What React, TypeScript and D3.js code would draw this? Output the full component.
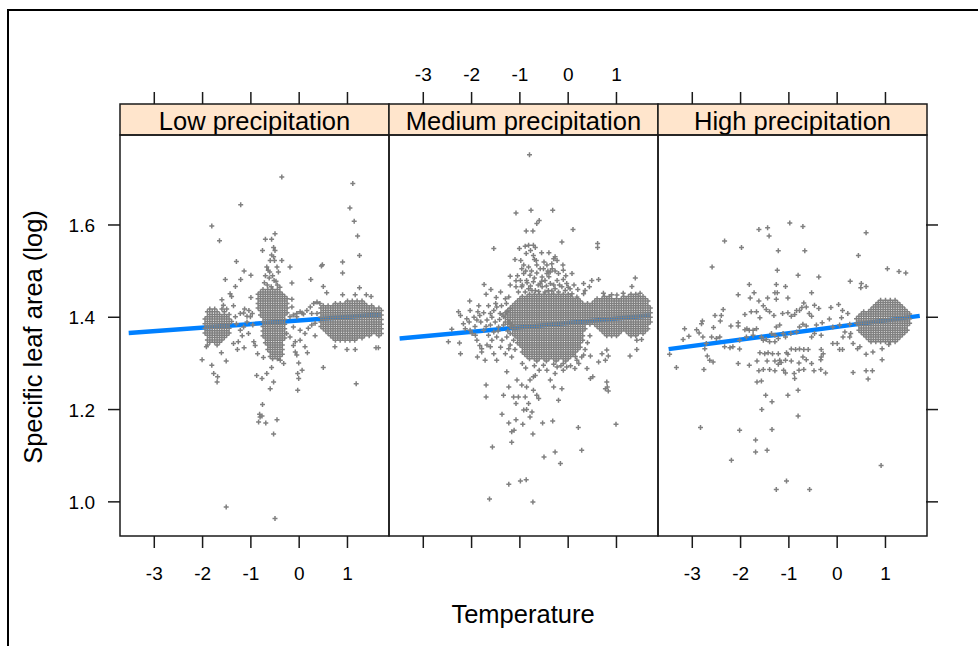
import React from "react";
import * as d3 from "d3";

const panelNames = ["Low precipitation", "Medium precipitation", "High precipitation"];
const xTicks = [-3, -2, -1, 0, 1];
const yTicks = [1.0, 1.2, 1.4, 1.6];
const yTickLabels = ["1.0", "1.2", "1.4", "1.6"];
const xDomain = [-3.71, 1.86];
const yDomain = [0.926, 1.795];

// fitted lines [x, y] start and end
const lowFit: [number, number][] = [[-3.53, 1.366], [1.69, 1.406]];
const medFit: [number, number][] = [[-3.49, 1.354], [1.69, 1.404]];
const highFit: [number, number][] = [[-3.49, 1.331], [1.71, 1.403]];

// ---------- Low precipitation ----------
const lowPoints: [number, number][] = [
  [-0.36,1.704],[1.11,1.690],[-1.21,1.644],[1.05,1.637],[1.14,1.608],[-1.81,1.598],[1.21,1.576],[-1.65,1.566],[1.25,1.534],[-0.50,1.581],
  [-0.70,1.569],[-0.57,1.569],[-0.53,1.551],[-0.50,1.545],[-0.76,1.545],[-0.57,1.535],[-0.53,1.531],[-0.60,1.523],[-0.51,1.523],[-0.36,1.523],
  [-1.30,1.521],[-0.67,1.509],[-0.46,1.509],[-0.64,1.502],[-0.43,1.498],[-0.19,1.509],[0.46,1.511],[0.48,1.514],[0.90,1.520],[0.90,1.496],
  [-1.14,1.500],[-1.00,1.491],[-1.53,1.482],[-1.21,1.482],[-1.32,1.467],[-1.43,1.451],[-1.40,1.445],[0.24,1.482],[-0.15,1.474],[0.50,1.467],
  [0.57,1.453],[1.25,1.464],[1.39,1.449],[1.49,1.445],[0.90,1.449],[1.16,1.449],[-1.60,1.438],[-1.57,1.426],[-1.36,1.425],[-1.00,1.443],
  [-1.15,1.409],[-1.08,1.402],[-0.15,1.439],[-0.15,1.422],[0.06,1.409],[-0.05,1.401],
  [-0.70,1.490],[-0.62,1.485],[-0.55,1.490],[-0.48,1.478],[-0.66,1.470],[-0.58,1.466],[-0.45,1.470],[-0.72,1.475],[-0.40,1.465],[-0.52,1.480],[-0.61,1.498],
  [-2.01,1.308],[-1.92,1.336],[-1.81,1.296],[-1.77,1.278],[-1.69,1.271],[-1.70,1.260],[-1.61,1.323],[-1.51,1.305],[-1.28,1.330],[-1.14,1.334],
  [-0.94,1.347],[-0.91,1.339],[-0.86,1.321],[-0.74,1.313],[-0.88,1.274],[-0.77,1.267],[-0.67,1.278],[-0.57,1.291],[-0.53,1.260],[-0.60,1.245],
  [-0.32,1.300],[-0.39,1.307],[-0.12,1.339],[-0.05,1.318],[-0.08,1.325],[-0.01,1.301],[0.06,1.285],[-0.03,1.278],[-0.01,1.267],[-0.03,1.242],
  [0.17,1.323],[0.12,1.336],[0.50,1.291],[1.18,1.256],[0.74,1.336],[0.99,1.330],[1.16,1.330],[1.59,1.334],[1.64,1.334],
  [-0.76,1.211],[-0.82,1.190],[-0.81,1.184],[-0.77,1.186],[-0.84,1.173],[-0.69,1.171],[-0.46,1.178],[-0.53,1.147],[-1.51,0.989],[-0.50,0.964],
  [-1.30,1.386],[-1.22,1.372],[-1.15,1.379],[-1.08,1.390],[-1.01,1.401],[-0.97,1.408],[-1.04,1.415],[-1.13,1.418],[-1.22,1.408],[-1.32,1.401],
  [-1.26,1.347],[-1.36,1.343],[-1.18,1.360],[-1.05,1.365],[-0.96,1.383],
  [-0.19,1.401],[-0.12,1.405],[-0.05,1.408],[0.02,1.412],[0.09,1.407],[0.16,1.415],[0.23,1.422],[0.30,1.430],[0.37,1.433],[0.43,1.430],
  [-0.12,1.379],[0.02,1.372],[0.12,1.365],[0.19,1.376],[0.26,1.383],[0.33,1.387],[-0.26,1.365],[-0.19,1.357],[0.02,1.350],[-0.08,1.347],
  [0.37,1.408],[0.26,1.408],[0.33,1.360],
];
const lowRows: [number, number[]][] = [
  // left cluster
  [1.418, [-1.85,-1.75,-1.6,-1.5]],
  [1.412, [-1.9,-1.8,-1.7,-1.55]],
  [1.406, [-1.85,-1.75,-1.65,-1.55,-1.45]],
  [1.401, [-1.9,-1.8,-1.7,-1.6,-1.5]],
  [1.396, [-1.95,-1.85,-1.75,-1.65,-1.55,-1.45]],
  [1.391, [-1.9,-1.8,-1.7,-1.6,-1.5,-1.4]],
  [1.386, [-1.95,-1.85,-1.75,-1.65,-1.55,-1.45]],
  [1.381, [-1.9,-1.8,-1.7,-1.6,-1.5]],
  [1.376, [-1.95,-1.85,-1.75,-1.65,-1.55,-1.45]],
  [1.371, [-1.9,-1.8,-1.7,-1.6,-1.5]],
  [1.366, [-1.95,-1.85,-1.75,-1.65,-1.55,-1.45]],
  [1.361, [-1.9,-1.8,-1.7,-1.6,-1.5]],
  [1.356, [-1.85,-1.75,-1.65,-1.55]],
  [1.351, [-1.9,-1.8,-1.7,-1.6]],
  [1.346, [-1.85,-1.75,-1.65]],
  [1.340, [-1.9,-1.7]],
  // central cluster
  [1.460, [-0.75,-0.65,-0.55,-0.45]],
  [1.455, [-0.8,-0.7,-0.6,-0.5,-0.4]],
  [1.450, [-0.85,-0.75,-0.65,-0.55,-0.45,-0.35]],
  [1.445, [-0.8,-0.7,-0.6,-0.5,-0.4,-0.3]],
  [1.440, [-0.85,-0.75,-0.65,-0.55,-0.45,-0.35,-0.25]],
  [1.435, [-0.8,-0.7,-0.6,-0.5,-0.4,-0.3]],
  [1.430, [-0.85,-0.75,-0.65,-0.55,-0.45,-0.35,-0.25]],
  [1.425, [-0.8,-0.7,-0.6,-0.5,-0.4,-0.3]],
  [1.420, [-0.85,-0.75,-0.65,-0.55,-0.45,-0.35,-0.25]],
  [1.415, [-0.8,-0.7,-0.6,-0.5,-0.4,-0.3]],
  [1.410, [-0.75,-0.65,-0.55,-0.45,-0.35,-0.25]],
  [1.405, [-0.8,-0.7,-0.6,-0.5,-0.4,-0.3]],
  [1.400, [-0.75,-0.65,-0.55,-0.45,-0.35]],
  [1.395, [-0.7,-0.6,-0.5,-0.4,-0.3]],
  [1.390, [-0.75,-0.65,-0.55,-0.45,-0.35]],
  [1.385, [-0.7,-0.6,-0.5,-0.4,-0.3]],
  [1.380, [-0.75,-0.65,-0.55,-0.45,-0.35]],
  [1.375, [-0.7,-0.6,-0.5,-0.4,-0.3]],
  [1.370, [-0.75,-0.65,-0.55,-0.45,-0.35]],
  [1.365, [-0.7,-0.6,-0.5,-0.4,-0.3]],
  [1.360, [-0.75,-0.65,-0.55,-0.45,-0.35]],
  [1.355, [-0.7,-0.6,-0.5,-0.4,-0.3]],
  [1.350, [-0.65,-0.55,-0.45,-0.35]],
  [1.345, [-0.7,-0.6,-0.5,-0.4]],
  [1.340, [-0.65,-0.55,-0.45,-0.35]],
  [1.335, [-0.6,-0.5,-0.4]],
  [1.330, [-0.65,-0.55,-0.45,-0.35]],
  [1.325, [-0.6,-0.5,-0.4]],
  [1.320, [-0.55,-0.45,-0.35]],
  [1.315, [-0.6,-0.5,-0.4]],
  [1.310, [-0.55,-0.45]],
  // right cluster
  [1.435, [1.0,1.1,1.2,1.3]],
  [1.430, [0.75,0.85,0.95,1.05,1.15,1.25,1.35]],
  [1.425, [0.5,0.6,0.7,0.8,0.9,1.0,1.1,1.2,1.3,1.4,1.5]],
  [1.420, [0.45,0.55,0.65,0.75,0.85,0.95,1.05,1.15,1.25,1.35,1.45,1.55,1.65]],
  [1.415, [0.5,0.6,0.7,0.8,0.9,1.0,1.1,1.2,1.3,1.4,1.5,1.6,1.7]],
  [1.410, [0.45,0.55,0.65,0.75,0.85,0.95,1.05,1.15,1.25,1.35,1.45,1.55,1.65]],
  [1.405, [0.5,0.6,0.7,0.8,0.9,1.0,1.1,1.2,1.3,1.4,1.5,1.6,1.7]],
  [1.400, [0.45,0.55,0.65,0.75,0.85,0.95,1.05,1.15,1.25,1.35,1.45,1.55,1.65]],
  [1.395, [0.5,0.6,0.7,0.8,0.9,1.0,1.1,1.2,1.3,1.4,1.5,1.6,1.7]],
  [1.390, [0.45,0.55,0.65,0.75,0.85,0.95,1.05,1.15,1.25,1.35,1.45,1.55,1.65]],
  [1.385, [0.5,0.6,0.7,0.8,0.9,1.0,1.1,1.2,1.3,1.4,1.5,1.6,1.7]],
  [1.380, [0.45,0.55,0.65,0.75,0.85,0.95,1.05,1.15,1.25,1.35,1.45,1.55,1.65]],
  [1.375, [0.5,0.6,0.7,0.8,0.9,1.0,1.1,1.2,1.3,1.4,1.5,1.6,1.7]],
  [1.370, [0.55,0.65,0.75,0.85,0.95,1.05,1.15,1.25,1.35,1.45,1.55,1.65]],
  [1.365, [0.6,0.7,0.8,0.9,1.0,1.1,1.2,1.3,1.4,1.5,1.6,1.7]],
  [1.360, [0.65,0.75,0.85,0.95,1.05,1.15,1.25,1.35,1.45,1.65]],
  [1.355, [0.7,0.8,0.9,1.0,1.1,1.2,1.3]],
  [1.350, [0.75,0.85,0.95,1.05,1.15]],
];

// ---------- Medium precipitation ----------
const medPoints: [number, number][] = [
  [-2.27,1.412],[-2.23,1.404],[-2.10,1.397],[-2.03,1.415],[-1.87,1.412],[-1.83,1.404],[-1.89,1.394],[-1.81,1.390],[-2.04,1.435],[-1.74,1.471],
  [-1.70,1.450],[-1.49,1.443],[-1.30,1.440],[-1.23,1.444],[-1.61,1.408],[-1.54,1.415],[-1.48,1.422],[-1.41,1.408],[-1.34,1.401],[-1.27,1.412],
  [-1.20,1.419],[-1.68,1.394],[-1.61,1.383],[-1.51,1.390],[-1.44,1.379],[-1.34,1.383],[-1.23,1.390],[-1.17,1.383],[-1.75,1.372],[-1.65,1.361],
  [-1.54,1.368],[-1.48,1.357],[-1.37,1.350],[-1.27,1.357],[-1.20,1.365],[-1.13,1.350],[-2.03,1.372],[-1.99,1.365],[-1.92,1.361],[-1.89,1.350],
  [-1.83,1.339],[-1.79,1.332],[-1.88,1.314],[-1.72,1.307],[-1.79,1.325],[-1.61,1.336],[-1.54,1.321],[-1.48,1.307],[-1.30,1.321],[-1.23,1.332],
  [-1.17,1.314],[-2.41,1.374],[-2.48,1.347],[-2.25,1.344],[-2.23,1.321],[-2.17,1.386],[-2.13,1.375],
  [-1.95,1.400],[-1.85,1.425],[-1.75,1.410],[-1.65,1.425],[-1.58,1.400],[-1.50,1.430],[-1.42,1.395],[-1.38,1.425],[-1.30,1.390],[-1.25,1.370],
  [-1.45,1.370],[-1.58,1.350],[-1.40,1.335],[-1.20,1.340],[-1.10,1.330],[-1.68,1.340],[-2.05,1.390],[-1.93,1.380],[-1.70,1.380],[-1.15,1.400],
  [-1.28,1.430],[-1.40,1.455],[-1.60,1.460],[-1.20,1.470],
  [-0.80,1.752],[-1.08,1.626],[-0.77,1.632],[-0.32,1.632],[-0.60,1.610],[-0.65,1.603],[-0.87,1.587],[-0.73,1.587],[0.10,1.590],[-0.13,1.563],
  [0.61,1.560],[0.61,1.551],[-1.54,1.549],[-1.01,1.549],[-0.89,1.554],[-0.82,1.556],[-0.72,1.556],[-0.68,1.551],[-0.87,1.538],[-0.72,1.534],
  [-0.66,1.523],[-1.10,1.525],[-0.98,1.523],[-0.92,1.513],[-0.82,1.509],[-0.96,1.505],[-0.30,1.527],[-0.27,1.531],[-0.34,1.516],[-0.11,1.513],
  [-0.10,1.502],[0.08,1.495],[-0.27,1.500],[-0.37,1.498],[-1.20,1.489],[-1.08,1.479],[-1.08,1.466],[-1.03,1.455],[0.49,1.480],[0.63,1.482],
  [0.44,1.466],[0.32,1.473],[0.35,1.458],[0.18,1.444],[0.08,1.451],[0.32,1.451],[1.39,1.485],[1.32,1.467],
  [-0.92,1.495],[-0.79,1.491],[-0.65,1.496],[-0.54,1.487],[-0.44,1.495],[-0.86,1.480],[-0.72,1.477],[-0.58,1.473],[-0.48,1.480],[-0.37,1.473],
  [-0.23,1.480],[-0.96,1.466],[-0.82,1.462],[-0.68,1.458],[-0.54,1.466],[-0.41,1.458],[-0.27,1.462],[-0.13,1.466],[-0.03,1.473],[-0.89,1.455],
  [-0.75,1.458],[-0.61,1.456],[-0.48,1.455],[-0.34,1.457],[-0.20,1.455],[-0.06,1.458],[0.04,1.462],[-0.23,1.523],[-0.51,1.505],[-0.65,1.513],
  [-0.44,1.513],[0.90,1.449],[0.73,1.452],[1.01,1.448],[1.14,1.452],[1.49,1.452],
  [-0.95,1.470],[-0.85,1.475],[-0.78,1.468],[-0.70,1.485],[-0.62,1.470],[-0.55,1.478],[-0.45,1.468],[-0.40,1.488],[-0.30,1.470],[-0.18,1.470],
  [-0.10,1.482],[-0.88,1.500],[-0.76,1.500],[-0.58,1.505],[-0.50,1.520],[-0.42,1.500],[-0.33,1.505],[-0.20,1.495],[-0.05,1.490],[0.00,1.465],
  [0.12,1.470],[0.20,1.460],[-0.70,1.525],[-0.55,1.540],[-0.78,1.545],[-0.40,1.540],[-0.99,1.480],[-1.05,1.490],
  [1.42,1.350],[1.52,1.352],[1.28,1.316],[1.42,1.330],[0.70,1.321],[0.80,1.329],[0.83,1.316],[0.77,1.307],[0.63,1.303],[0.46,1.316],
  [0.32,1.318],[0.18,1.307],[0.28,1.314],[0.14,1.289],[-0.03,1.292],[-0.10,1.300],[-0.23,1.292],[-0.30,1.298],[-0.44,1.285],[-0.51,1.296],
  [-0.95,1.300],[-0.88,1.290],[-0.70,1.295],[-0.60,1.285],[-0.15,1.295],[0.05,1.295],[0.22,1.300],[0.35,1.330],[0.40,1.345],[0.45,1.360],
  [0.51,1.271],[0.46,1.267],[0.80,1.260],[0.81,1.249],[0.83,1.240],[0.77,1.245],[-1.70,1.253],[-1.70,1.227],[-1.27,1.282],[-1.23,1.249],
  [-1.06,1.264],[-0.96,1.253],[-0.86,1.249],[-0.79,1.264],[-0.72,1.271],[-0.68,1.274],[-0.65,1.231],[-0.61,1.224],[-0.72,1.242],[-0.89,1.227],
  [-1.03,1.227],[-1.13,1.227],[-1.08,1.213],[-1.34,1.231],[-0.82,1.213],[-0.75,1.195],[-0.86,1.200],[-0.79,1.184],[-0.92,1.199],[-1.37,1.190],
  [-1.23,1.171],[-1.08,1.178],[-0.94,1.168],[-1.17,1.152],[-1.12,1.155],[-1.17,1.129],[-0.73,1.147],[-0.53,1.171],[-0.32,1.175],[-0.37,1.264],
  [-0.30,1.249],[-0.20,1.220],[-0.13,1.245],[-0.27,1.278],[-0.10,1.285],[0.39,1.289],
  [0.21,1.161],[0.99,1.168],[0.28,1.112],[-1.57,1.119],[-0.50,1.097],[-0.27,1.108],[-0.16,1.083],[-1.23,1.038],[-0.99,1.045],[-0.87,1.048],
  [-1.63,1.006],[-0.73,1.000],
];
const medRows: [number, number[]][] = [
  [1.450, [-0.8,-0.7,-0.6,-0.5,-0.4,-0.3,-0.2,-0.1,0,1.3,1.4]],
  [1.445, [-0.95,-0.85,-0.75,-0.65,-0.55,-0.45,-0.35,-0.25,-0.15,-0.05,0.05,0.75,0.85,1.15,1.25,1.35,1.45,1.55]],
  [1.440, [-1,-0.9,-0.8,-0.7,-0.6,-0.5,-0.4,-0.3,-0.2,-0.1,0,0.1,0.2,0.6,0.7,0.8,0.9,1,1.1,1.2,1.3,1.4,1.5,1.6]],
  [1.435, [-1.05,-0.95,-0.85,-0.75,-0.65,-0.55,-0.45,-0.35,-0.25,-0.15,-0.05,0.05,0.15,0.25,0.55,0.65,0.75,0.85,0.95,1.05,1.15,1.25,1.35,1.45,1.55,1.65]],
  [1.430, [-1.1,-1,-0.9,-0.8,-0.7,-0.6,-0.5,-0.4,-0.3,-0.2,-0.1,0,0.1,0.2,0.3,0.4,0.5,0.6,0.7,0.8,0.9,1,1.1,1.2,1.3,1.4,1.5,1.6]],
  [1.425, [-1.15,-1.05,-0.95,-0.85,-0.75,-0.65,-0.55,-0.45,-0.35,-0.25,-0.15,-0.05,0.05,0.15,0.25,0.35,0.45,0.55,0.65,0.75,0.85,0.95,1.05,1.15,1.25,1.35,1.45,1.55,1.65]],
  [1.420, [-1.2,-1.1,-1,-0.9,-0.8,-0.7,-0.6,-0.5,-0.4,-0.3,-0.2,-0.1,0,0.1,0.2,0.3,0.4,0.5,0.6,0.7,0.8,0.9,1,1.1,1.2,1.3,1.4,1.5,1.6,1.7]],
  [1.415, [-1.25,-1.15,-1.05,-0.95,-0.85,-0.75,-0.65,-0.55,-0.45,-0.35,-0.25,-0.15,-0.05,0.05,0.15,0.25,0.35,0.45,0.55,0.65,0.75,0.85,0.95,1.05,1.15,1.25,1.35,1.45,1.55,1.65]],
  [1.410, [-1.3,-1.2,-1.1,-1,-0.9,-0.8,-0.7,-0.6,-0.5,-0.4,-0.3,-0.2,-0.1,0,0.1,0.2,0.3,0.4,0.5,0.6,0.7,0.8,0.9,1,1.1,1.2,1.3,1.4,1.5,1.6,1.7]],
  [1.405, [-1.35,-1.25,-1.15,-1.05,-0.95,-0.85,-0.75,-0.65,-0.55,-0.45,-0.35,-0.25,-0.15,-0.05,0.05,0.15,0.25,0.35,0.45,0.55,0.65,0.75,0.85,0.95,1.05,1.15,1.25,1.35,1.45,1.55,1.65]],
  [1.400, [-1.3,-1.2,-1.1,-1,-0.9,-0.8,-0.7,-0.6,-0.5,-0.4,-0.3,-0.2,-0.1,0,0.1,0.2,0.3,0.4,0.5,0.6,0.7,0.8,0.9,1,1.1,1.2,1.3,1.4,1.5,1.6,1.7]],
  [1.395, [-1.25,-1.15,-1.05,-0.95,-0.85,-0.75,-0.65,-0.55,-0.45,-0.35,-0.25,-0.15,-0.05,0.05,0.15,0.25,0.35,0.45,0.55,0.65,0.75,0.85,0.95,1.05,1.15,1.25,1.35,1.45,1.55,1.65]],
  [1.390, [-1.2,-1.1,-1,-0.9,-0.8,-0.7,-0.6,-0.5,-0.4,-0.3,-0.2,-0.1,0,0.1,0.2,0.3,0.4,0.5,0.6,0.7,0.8,0.9,1,1.1,1.2,1.3,1.4,1.5,1.6,1.7]],
  [1.385, [-1.25,-1.15,-1.05,-0.95,-0.85,-0.75,-0.65,-0.55,-0.45,-0.35,-0.25,-0.15,-0.05,0.05,0.15,0.25,0.35,0.45,0.55,0.65,0.75,0.85,0.95,1.05,1.15,1.25,1.35,1.45,1.55,1.65]],
  [1.380, [-1.2,-1.1,-1,-0.9,-0.8,-0.7,-0.6,-0.5,-0.4,-0.3,-0.2,-0.1,0,0.1,0.2,0.3,0.6,0.7,0.8,0.9,1,1.1,1.2,1.3,1.4,1.5,1.6]],
  [1.375, [-1.15,-1.05,-0.95,-0.85,-0.75,-0.65,-0.55,-0.45,-0.35,-0.25,-0.15,-0.05,0.05,0.15,0.25,0.35,0.65,0.75,0.85,0.95,1.05,1.15,1.25,1.35,1.45,1.55,1.65]],
  [1.370, [-1.1,-1,-0.9,-0.8,-0.7,-0.6,-0.5,-0.4,-0.3,-0.2,-0.1,0,0.1,0.2,0.3,0.7,0.8,0.9,1,1.1,1.2,1.3,1.4,1.5,1.6]],
  [1.365, [-1.15,-1.05,-0.95,-0.85,-0.75,-0.65,-0.55,-0.45,-0.35,-0.25,-0.15,-0.05,0.05,0.15,0.25,0.75,0.85,0.95,1.05,1.25,1.35,1.45,1.55]],
  [1.360, [-1.1,-1,-0.9,-0.8,-0.7,-0.6,-0.5,-0.4,-0.3,-0.2,-0.1,0,0.1,0.2,0.3,0.8,0.9,1,1.3,1.4]],
  [1.355, [-1.05,-0.95,-0.85,-0.75,-0.65,-0.55,-0.45,-0.35,-0.25,-0.15,-0.05,0.05,0.15,0.25]],
  [1.350, [-1,-0.9,-0.8,-0.7,-0.6,-0.5,-0.4,-0.3,-0.2,-0.1,0,0.1,0.2,0.3]],
  [1.345, [-1.05,-0.95,-0.85,-0.75,-0.65,-0.55,-0.45,-0.35,-0.25,-0.15,-0.05,0.05,0.15,0.25]],
  [1.340, [-1,-0.9,-0.8,-0.7,-0.6,-0.5,-0.4,-0.3,-0.2,-0.1,0,0.1,0.2]],
  [1.335, [-0.95,-0.85,-0.75,-0.65,-0.55,-0.45,-0.35,-0.25,-0.15,-0.05,0.05,0.15,0.25]],
  [1.330, [-0.9,-0.8,-0.7,-0.6,-0.5,-0.4,-0.3,-0.2,-0.1,0,0.1,0.2]],
  [1.325, [-0.95,-0.85,-0.75,-0.65,-0.55,-0.45,-0.35,-0.25,-0.15,-0.05,0.05,0.15]],
  [1.320, [-0.9,-0.8,-0.7,-0.6,-0.5,-0.4,-0.3,-0.2,-0.1,0,0.1]],
  [1.315, [-0.85,-0.75,-0.65,-0.55,-0.45,-0.35,-0.25,-0.15,-0.05,0.05,0.15]],
  [1.310, [-0.8,-0.7,-0.6,-0.5,-0.4,-0.3,-0.2,-0.1,0]],
  [1.305, [-0.65,-0.45,-0.25,-0.05]],
];

// ---------- High precipitation ----------
const highPoints: [number, number][] = [
  [-0.98,1.604],[-1.62,1.590],[-1.44,1.594],[-1.41,1.576],[-0.71,1.597],[-2.33,1.565],[-1.98,1.551],[-1.22,1.544],[-0.67,1.544],[0.60,1.583],
  [0.44,1.534],[-2.59,1.509],[-1.24,1.502],[-0.81,1.491],[-0.38,1.487],[1.04,1.505],[1.28,1.499],[1.42,1.496],[0.27,1.478],[0.50,1.473],
  [0.49,1.464],[0.60,1.467],[-1.82,1.471],[-1.26,1.471],[-1.07,1.467],[-1.72,1.453],[-2.05,1.449],[-1.29,1.453],[-1.24,1.453],[-0.53,1.453],
  [-1.80,1.442],[-1.62,1.435],[-1.44,1.442],[-1.26,1.439],[-1.02,1.442],[-0.69,1.431],[-0.64,1.422],[-0.73,1.421],[-0.78,1.415],[-0.84,1.415],
  [-0.47,1.426],[-0.38,1.419],[-0.13,1.421],[0.03,1.428],[0.11,1.415],[0.22,1.408],[-2.36,1.417],[-2.40,1.404],[-2.53,1.404],[-2.42,1.392],
  [-2.79,1.392],[-2.56,1.378],[-2.20,1.381],[-2.05,1.388],[-2.05,1.381],[-1.91,1.406],[-1.78,1.412],[-1.67,1.412],[-1.60,1.399],[-1.53,1.425],
  [-1.47,1.417],[-1.40,1.412],[-1.31,1.404],[-1.13,1.408],[-1.02,1.410],[-0.95,1.402],[-0.88,1.406],[-0.58,1.408],[-0.53,1.402],[0.09,1.399],
  [0.26,1.385],[-0.16,1.396],[-0.31,1.388],[-0.43,1.383],[-3.16,1.375],[-3.19,1.352],[-3.07,1.359],[-2.91,1.373],[-2.86,1.366],[-2.81,1.386],
  [-2.78,1.357],[-2.71,1.343],[-2.74,1.332],[-2.69,1.316],[-2.57,1.303],[-2.64,1.307],[-2.76,1.287],[-3.33,1.291],[-3.47,1.320],[-2.60,1.357],
  [-2.50,1.354],[-2.43,1.357],[-2.33,1.336],[-2.22,1.334],[-2.16,1.336],[-2.02,1.331],[-2.05,1.300],[-1.82,1.296],[-2.02,1.350],[-1.91,1.373],
  [-1.87,1.375],[-1.82,1.372],[-1.74,1.372],[-1.67,1.375],[-1.57,1.357],[-1.47,1.352],[-1.36,1.365],[-1.29,1.361],[-1.26,1.379],[-1.19,1.383],
  [-1.12,1.365],[-1.07,1.357],[-0.96,1.365],[-0.84,1.368],[-0.78,1.379],[-0.71,1.385],[-0.64,1.381],[-0.53,1.357],[-0.47,1.365],[-0.33,1.361],
  [-0.09,1.379],[0.05,1.383],[0.12,1.357],[0.16,1.368],[-1.60,1.323],[-1.50,1.321],[-1.43,1.323],[-1.34,1.321],[-1.22,1.321],[-1.05,1.323],
  [-1.02,1.320],[-0.95,1.331],[-0.86,1.330],[-0.78,1.331],[-0.69,1.330],[-0.60,1.330],[-0.33,1.330],[-0.29,1.321],[-0.33,1.314],[-0.34,1.308],
  [0.00,1.343],[0.05,1.330],[0.11,1.330],[-0.09,1.343],[-1.66,1.305],[-1.45,1.305],[-1.29,1.305],[-1.19,1.307],[-1.22,1.298],[-1.16,1.302],
  [-1.07,1.307],[-0.95,1.305],[-0.79,1.301],[-0.71,1.314],[-0.64,1.308],[-0.53,1.300],[-1.62,1.284],[-1.53,1.287],[-1.40,1.287],[-1.29,1.284],
  [-1.11,1.285],[-1.07,1.279],[-0.89,1.278],[-0.88,1.267],[-0.79,1.285],[-0.69,1.287],[-0.48,1.284],[-0.34,1.287],[-0.24,1.279],[-1.66,1.260],
  [-1.57,1.262],[-1.48,1.231],[-1.35,1.217],[-1.02,1.231],[-0.81,1.242],[-1.56,1.200],[-0.81,1.186],[-2.83,1.161],[-2.02,1.155],[-1.35,1.157],
  [-1.69,1.134],[-1.69,1.108],[-1.45,1.112],[-2.19,1.090],[-1.26,1.027],[-1.05,1.045],[-0.57,1.027],[0.91,1.079],[0.33,1.280],[0.60,1.284],
  [0.73,1.284],[0.64,1.266],[0.60,1.320],[0.74,1.325],[0.93,1.332],[1.07,1.341],[0.93,1.308],[0.33,1.343],[0.26,1.357],[0.28,1.365],
  [0.47,1.336],[0.42,1.332],[-1.53,1.350],[-1.40,1.347],[-1.29,1.347],[-1.22,1.354],[-1.88,1.357],[-1.74,1.361],
];
const highRows: [number, number[]][] = [
  [1.437, [0.9,1.0,1.1,1.2]],
  [1.432, [0.85,0.95,1.05,1.15,1.25]],
  [1.427, [0.8,0.9,1.0,1.1,1.2,1.3]],
  [1.422, [0.75,0.85,0.95,1.05,1.15,1.25,1.35]],
  [1.417, [0.7,0.8,0.9,1.0,1.1,1.2,1.3,1.4]],
  [1.412, [0.55,0.65,0.75,0.85,0.95,1.05,1.15,1.25,1.35,1.45]],
  [1.407, [0.5,0.6,0.7,0.8,0.9,1.0,1.1,1.2,1.3,1.4,1.5]],
  [1.402, [0.45,0.55,0.65,0.75,0.85,0.95,1.05,1.15,1.25,1.35,1.45]],
  [1.397, [0.4,0.5,0.6,0.7,0.8,0.9,1.0,1.1,1.2,1.3,1.4,1.5]],
  [1.392, [0.45,0.55,0.65,0.75,0.85,0.95,1.05,1.15,1.25,1.35,1.45]],
  [1.387, [0.4,0.5,0.6,0.7,0.8,0.9,1.0,1.1,1.2,1.3,1.4,1.5]],
  [1.382, [0.45,0.55,0.65,0.75,0.85,0.95,1.05,1.15,1.25,1.35,1.45]],
  [1.377, [0.5,0.6,0.7,0.8,0.9,1.0,1.1,1.2,1.3,1.4]],
  [1.372, [0.45,0.55,0.65,0.75,0.85,0.95,1.05,1.15,1.25,1.35,1.45]],
  [1.367, [0.5,0.6,0.7,0.8,0.9,1.0,1.1,1.2,1.3,1.4]],
  [1.362, [0.55,0.65,0.75,0.85,0.95,1.05,1.15,1.25,1.35]],
  [1.357, [0.6,0.7,0.8,0.9,1.0,1.1,1.2,1.3]],
  [1.352, [0.65,0.75,0.85,0.95,1.05,1.15,1.25]],
  [1.347, [0.7,0.8,0.9,1.0,1.1,1.2]],
];

const flatten = (pts: [number, number][], rows: [number, number[]][]) =>
  pts.concat(rows.flatMap(([y, xs]) => xs.map((x) => [x, y] as [number, number])));

const series = [
  { pts: flatten(lowPoints, lowRows), fit: lowFit },
  { pts: flatten(medPoints, medRows), fit: medFit },
  { pts: flatten(highPoints, highRows), fit: highFit },
];

const FONT = "'Liberation Sans', Arial, Helvetica, sans-serif";
const INK = "#1a1a1a";

export default function App() {
  const W = 978, H = 646;
  const left0 = 120, pw = 269, top = 135, bottom = 536, stripTop = 104;
  const y = d3.scaleLinear().domain(yDomain).range([bottom, top]);
  const s = 2.5;
  return (
    <svg width={W} height={H} style={{ position: "absolute", left: 0, top: 0, display: "block", background: "#fff" }}>
      <rect x={0} y={0} width={W} height={H} fill="#fff" />
      <rect x={8} y={10} width={1400} height={1000} fill="none" stroke="#000" strokeWidth={2} />
      {series.map((sr, i) => {
        const x0 = left0 + i * pw;
        const x = d3.scaleLinear().domain(xDomain).range([x0, x0 + pw]);
        const pathD = sr.pts
          .map(([a, b]) => {
            const px = x(a), py = y(b);
            return `M${(px - s).toFixed(1)},${py.toFixed(1)}h${2 * s}M${px.toFixed(1)},${(py - s).toFixed(1)}v${2 * s}`;
          })
          .join("");
        const line = d3.line<[number, number]>().x((d) => x(d[0])).y((d) => y(d[1]));
        return (
          <g key={i}>
            <defs>
              <clipPath id={`clip${i}`}>
                <rect x={x0} y={top} width={pw} height={bottom - top} />
              </clipPath>
            </defs>
            <g clipPath={`url(#clip${i})`}>
              <path d={line(sr.fit) || ""} stroke="#0080ff" strokeWidth={4.5} fill="none" />
              <path d={pathD} stroke="#808080" strokeWidth={1.5} fill="none" />
            </g>
            <rect x={x0} y={stripTop} width={pw} height={top - stripTop} fill="#ffe5cc" stroke={INK} strokeWidth={1.5} />
            <text x={x0 + pw / 2} y={130} textAnchor="middle" fontFamily={FONT} fontSize={25.5} fill="#000">
              {panelNames[i]}
            </text>
            <rect x={x0} y={top} width={pw} height={bottom - top} fill="none" stroke={INK} strokeWidth={1.5} />
            {xTicks.map((t) => (
              <g key={t}>
                <line x1={x(t)} x2={x(t)} y1={stripTop - 12} y2={stripTop} stroke={INK} strokeWidth={1.5} />
                <line x1={x(t)} x2={x(t)} y1={bottom} y2={bottom + 12} stroke={INK} strokeWidth={1.5} />
                {i === 1 ? (
                  <text x={x(t)} y={81} textAnchor="middle" fontFamily={FONT} fontSize={19} fill="#000">
                    {String(t)}
                  </text>
                ) : (
                  <text x={x(t)} y={580} textAnchor="middle" fontFamily={FONT} fontSize={19} fill="#000">
                    {String(t)}
                  </text>
                )}
              </g>
            ))}
          </g>
        );
      })}
      {yTicks.map((t, k) => (
        <g key={t}>
          <line x1={left0 - 12} x2={left0} y1={y(t)} y2={y(t)} stroke={INK} strokeWidth={1.5} />
          <line x1={left0 + 3 * pw - 1} x2={left0 + 3 * pw + 11} y1={y(t)} y2={y(t)} stroke={INK} strokeWidth={1.5} />
          <text x={95} y={y(t) + 7} textAnchor="end" fontFamily={FONT} fontSize={19} fill="#000">
            {yTickLabels[k]}
          </text>
        </g>
      ))}
      <text x={523} y={623} textAnchor="middle" fontFamily={FONT} fontSize={25.5} fill="#000">
        Temperature
      </text>
      <text transform="translate(41.5,337) rotate(-90)" textAnchor="middle" fontFamily={FONT} fontSize={25.5} fill="#000">
        Specific leaf area (log)
      </text>
    </svg>
  );
}
